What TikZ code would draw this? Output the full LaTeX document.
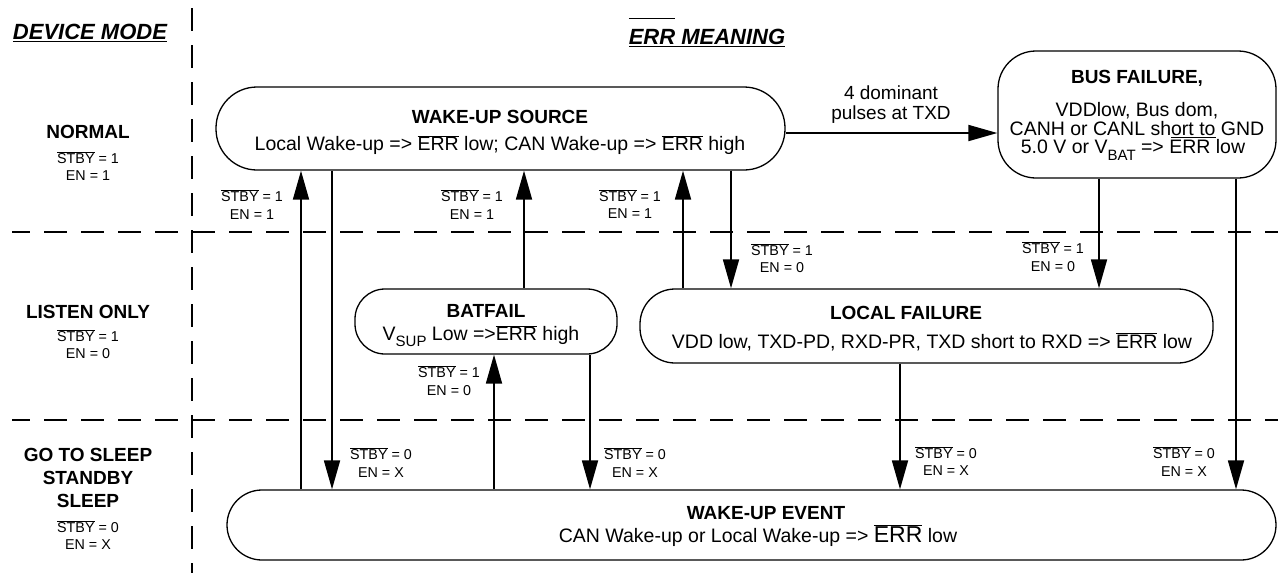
\documentclass[tikz,border=0pt]{standalone}
\usepackage{fontspec}
\setmainfont{Liberation Sans}
\usetikzlibrary{arrows.meta}
\newcommand\ovl[1]{\ensuremath{\overline{\mbox{#1}}}}
\newcommand\fs[1]{\fontsize{#1}{#1}\selectfont}
\newcommand\lowsub[1]{\raisebox{-0.32em}{\fs{15}#1}}
\begin{document}
\begin{tikzpicture}[x=1pt,y=-1pt,
  box/.style={draw, line width=1.3pt, inner sep=0pt},
  ttl/.style={inner sep=0pt, font=\fontsize{19}{21}\selectfont\bfseries},
  txt/.style={inner sep=0pt, font=\fontsize{19.5}{20}\selectfont},
  sm/.style={inner sep=0pt, align=center, font=\fontsize{14.3}{17.5}\selectfont},
  mode/.style={inner sep=0pt, font=\fontsize{19}{23}\selectfont\bfseries, align=center},
  hdr/.style={inner sep=0pt, font=\fontsize{22}{24}\selectfont\bfseries\itshape},
  sep/.style={line width=2.5pt, dash pattern=on 23pt off 14pt},
  arr/.style={line width=1.8pt, -{Triangle[length=29pt,width=16pt]}}]
\useasboundingbox (0,0) rectangle (1278,573);

% separators
\draw[sep, dash phase=5pt] (12,232) -- (1278,232);
\draw[sep, dash phase=5pt] (12,420) -- (1278,420);
\draw[sep] (192,8) -- (192,573);

% headers
\node[hdr] (h1) at (90,33) {\underline{DEVICE MODE}};
\node[hdr] (h2) at (707,32) {\underline{\ensuremath{\overline{\mbox{\rule{0pt}{1.15em}ERR}}} MEANING}};

% device modes
\node[mode] (m1) at (88,132) {NORMAL};
\node[sm] (m1c) at (88,166) {\ovl{STBY} = 1\\EN = 1};
\node[mode] (m2) at (88,312) {LISTEN ONLY};
\node[sm] (m2c) at (88,344) {\ovl{STBY} = 1\\EN = 0};
\node[mode] (m3) at (88,478) {GO TO SLEEP\\STANDBY\\SLEEP};
\node[sm] (m3c) at (88,535) {\ovl{STBY} = 0\\EN = X};

% boxes
\node[box, rounded corners=41pt, minimum width=569pt, minimum height=83pt] (WS) at (500.5,128.5) {};
\node[box, rounded corners=38pt, minimum width=278pt, minimum height=127pt] (BF) at (1137,114.5) {};
\node[box, rounded corners=30pt, minimum width=262pt, minimum height=65pt] (BAT) at (486,321.5) {};
\node[box, rounded corners=35pt, minimum width=573pt, minimum height=74pt] (LF) at (926.5,326) {};
\node[box, rounded corners=35pt, minimum width=1049pt, minimum height=70pt] (WE) at (751.5,525) {};

% box texts
\node[ttl] (wsT) at (500,117) {WAKE-UP SOURCE};
\node[txt] (wsL) at (500,145) {Local Wake-up => \ovl{ERR} low; CAN Wake-up => \ovl{ERR} high};
\node[ttl] (bfT) at (1137,78) {BUS FAILURE,};
\node[txt] (bf1) at (1137,111) {VDDlow, Bus dom,};
\node[txt] (bf2) at (1137,130) {CANH or CANL sh\underline{ort to} GND};
\node[txt] (bf3) at (1133,150) {5.0 V or V\lowsub{BAT} => ERR low};
\node[ttl] (batT) at (486,311) {BATFAIL};
\node[txt] (batL) at (481,336) {V\lowsub{SUP} Low =>\ovl{ERR} high};
\node[ttl] (lfT) at (906,313) {LOCAL FAILURE};
\node[txt] (lfL) at (932,342) {VDD low, TXD-PD, RXD-PR, TXD short to RXD => \ovl{ERR} low};
\node[ttl] (weT) at (766,513) {WAKE-UP EVENT};
\node[txt] (weL) at (758,536) {CAN Wake-up or Local Wake-up => {\fs{23}\ovl{ERR}} low};

% connector x positions
\coordinate (xa) at (301,0);
\coordinate (xb) at (332,0);
\coordinate (xc) at (524,0);
\coordinate (xd) at (494,0);
\coordinate (xe) at (590,0);
\coordinate (xf) at (683,0);
\coordinate (xg) at (731,0);
\coordinate (xh) at (1099,0);
\coordinate (xi) at (1236,0);
\coordinate (xj) at (900,0);
\coordinate (yk) at (0,133);

\draw[arr] (WE.north -| xa) -- (WS.south -| xa);
\draw[arr] (WS.south -| xb) -- (WE.north -| xb);
\draw[arr] (BAT.north -| xc) -- (WS.south -| xc);
\draw[arr] (WE.north -| xd) -- (BAT.south -| xd);
\draw[arr] (BAT.south -| xe) -- (WE.north -| xe);
\draw[arr] (LF.north -| xf) -- (WS.south -| xf);
\draw[arr] (WS.south -| xg) -- (LF.north -| xg);
\draw[arr] (BF.south -| xh) -- (LF.north -| xh);
\draw[arr] (BF.south -| xi) -- (WE.north -| xi);
\draw[arr] (LF.south -| xj) -- (WE.north -| xj);
\draw[arr] (WS.east |- yk) -- (BF.west |- yk);

% transition labels
\node[txt, align=center, font=\fontsize{19}{20}\selectfont] (lk) at (891,105) {4 dominant\\pulses at TXD};
\node[sm] (l1) at (252,204.5) {\ovl{STBY} = 1\\EN = 1};
\node[sm] (l2) at (472,204.5) {\ovl{STBY} = 1\\EN = 1};
\node[sm] (l3) at (630,204) {\ovl{STBY} = 1\\EN = 1};
\node[sm] (l4) at (782,258) {\ovl{STBY} = 1\\EN = 0};
\node[sm] (l5) at (1053,256.5) {\ovl{STBY} = 1\\EN = 0};
\node[sm] (l6) at (449,380.5) {\ovl{STBY} = 1\\EN = 0};
\node[sm] (l7) at (381,462.5) {\ovl{STBY} = 0\\EN = X};
\node[sm] (l8) at (635,462.5) {\ovl{STBY} = 0\\EN = X};
\node[sm] (l9) at (946,461) {\ovl{STBY} = 0\\EN = X};
\node[sm] (l10) at (1184,461.5) {\ovl{STBY} = 0\\EN = X};
\end{tikzpicture}
\end{document}
